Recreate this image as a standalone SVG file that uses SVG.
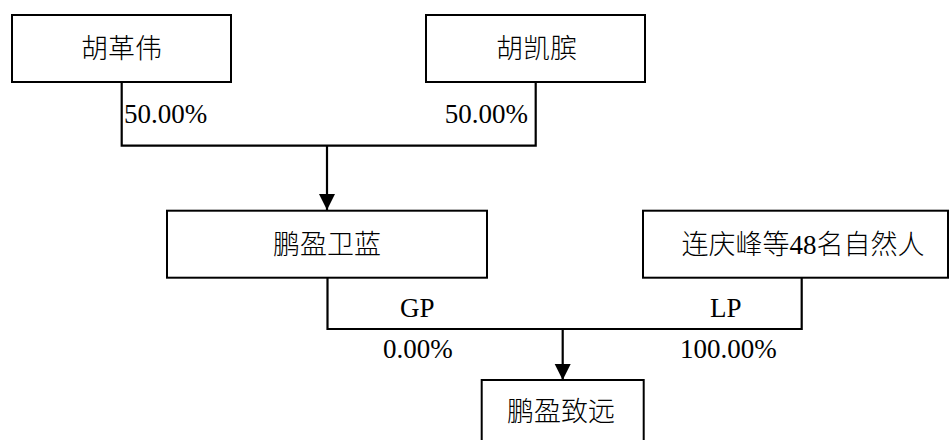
<svg xmlns="http://www.w3.org/2000/svg" width="950" height="440" viewBox="0 0 950 440">
<style>
.box{fill:#fff;stroke:#000;stroke-width:2}
.t{font-family:"Liberation Serif","Noto Sans CJK SC",serif;font-size:27px;fill:#000}
.cj{font-weight:300}
.c{text-anchor:middle}
.ln{fill:none;stroke:#000;stroke-width:2.2}
</style>
<defs>
<marker id="arr" markerUnits="userSpaceOnUse" markerWidth="17" markerHeight="17" refX="16" refY="8" orient="auto">
<path d="M0,0 L16,8 L0,16 Z" fill="#000"/>
</marker>
</defs>
<rect width="950" height="440" fill="#fff"/>
<g id="connectors">
<path class="ln" d="M121.7 82 V145.7 H535.7 V82"/>
<path class="ln" d="M327 145.7 V210" marker-end="url(#arr)"/>
<path class="ln" d="M327.5 277.7 V329 H801.7 V277.7"/>
<path class="ln" d="M562.7 329 V380" marker-end="url(#arr)"/>
<text class="t" x="124" y="123">50.00%</text>
<text class="t" x="528" y="123" text-anchor="end">50.00%</text>
<text class="t" x="400" y="317">GP</text>
<text class="t" x="710" y="317">LP</text>
<text class="t" x="383" y="358">0.00%</text>
<text class="t" x="680" y="358">100.00%</text>
</g>
<g id="n1">
<rect class="box" x="12" y="15" width="219" height="67"/>
<text class="t c cj" x="121.5" y="58">胡革伟</text>
</g>
<g id="n2">
<rect class="box" x="426" y="15" width="219" height="67"/>
<text class="t c cj" x="536.5" y="58">胡凯膑</text>
</g>
<g id="n3">
<rect class="box" x="167" y="210.7" width="320" height="67"/>
<text class="t c cj" x="327" y="253.5">鹏盈卫蓝</text>
</g>
<g id="n4">
<rect class="box" x="643" y="210.7" width="305" height="67"/>
<text class="t c cj" x="803" y="253.5">连庆峰等48名自然人</text>
</g>
<g id="n5">
<rect class="box" x="481.7" y="380" width="162" height="80"/>
<text class="t c cj" x="561" y="421">鹏盈致远</text>
</g>
</svg>
